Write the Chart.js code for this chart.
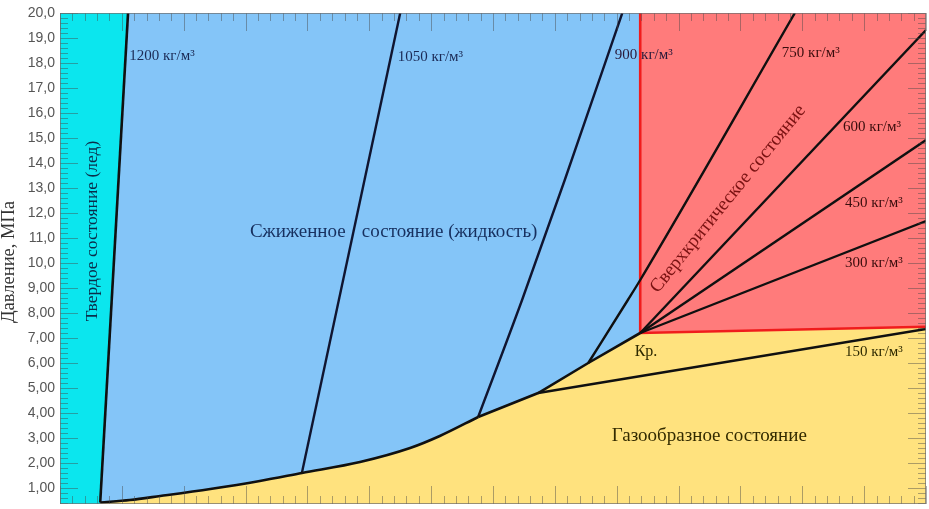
<!DOCTYPE html>
<html lang="ru">
<head>
<meta charset="UTF-8">
<title>Фазовая диаграмма CO2</title>
<script src="https://cdn.jsdelivr.net/npm/chart.js@4"></script>
<style>
    body { margin: 0; background: #fff; }
    #wrap { width: 929px; height: 509px; }
</style>
</head>
<body>
<div id="wrap"><canvas id="phaseChart" width="929" height="509"></canvas></div>
<script>
// оси: температура, К (подписи по X обрезаны), давление, МПа
const tMin = 210, tMax = 350;
const pMin = 0.36, pMax = 20;
const pTicks = [1, 2, 3, 4, 5, 6, 7, 8, 9, 10, 11, 12, 13, 14, 15, 16, 17, 18, 19, 20];
const tMajorStep = 10, tMinorStep = 2;

// линия плавления (граница лед / жидкость), 1200 кг/м3
const meltT = [216.5, 221.0];
const meltP = [0.42, 20.0];

// линия насыщения (жидкость / газ): плавная нижняя часть и ломаная до Кр.
const vapLowT = [216.5, 221.3, 226.2, 234.3, 242.3, 249.1, 258.5, 266.6, 271.4, 277.6];
const vapLowP = [0.42, 0.52, 0.68, 0.96, 1.28, 1.60, 2.04, 2.60, 3.08, 3.84];
const vapHighT = [277.6, 287.3, 295.4, 303.8];
const vapHighP = [3.84, 4.80, 6.00, 7.20];

// граница сверхкритической области (от Кр. вправо)
const superT = [303.8, 350];
const superP = [7.20, 7.45];

// изохоры, кг/м3
const iso1050T = [249.1, 265.0];
const iso1050P = [1.60, 20.0];
const iso900T = [277.6, 284.7, 291.6, 300.9];
const iso900P = [3.84, 8.52, 13.32, 20.0];
const iso750T = [295.4, 301.8, 303.8, 328.8];
const iso750P = [6.00, 8.52, 9.32, 20.0];
const iso600T = [303.8, 350];
const iso600P = [7.20, 19.32];
const iso450T = [303.8, 350];
const iso450P = [7.20, 14.92];
const iso300T = [303.8, 350];
const iso300P = [7.20, 11.68];
const iso150T = [287.3, 350];
const iso150P = [4.80, 7.36];

const pts = (ts, ps) => ts.map((t, i) => ({ x: t, y: ps[i] }));
const vapAll = [...pts(vapLowT, vapLowP), ...pts(vapHighT, vapHighP).slice(1)];
const crit = vapAll[vapAll.length - 1];
const n = meltT.length - 1;

// области фаз, собранные из линий выше
const solidArea = [
    { x: tMin, y: pMin }, { x: tMin, y: pMax },
    { x: meltT[n], y: pMax }, ...pts(meltT, meltP).reverse(), { x: meltT[0], y: pMin }
];
const liquidArea = [
    ...pts(meltT, meltP), { x: crit.x, y: pMax }, ...vapAll.slice().reverse()
];
const superArea = [
    { x: crit.x, y: crit.y }, { x: crit.x, y: pMax }, { x: tMax, y: pMax }, ...pts(superT, superP).reverse()
];
const gasArea = [
    { x: vapAll[0].x, y: pMin }, ...vapAll, ...pts(superT, superP).slice(1), { x: tMax, y: pMin }
];

const area = (data, color) => ({
    data, backgroundColor: color, borderWidth: 0, fill: 'shape', showLine: true,
    pointRadius: 0, order: 10
});
const curve = (data, color, w, smooth) => ({
    data, borderColor: color, borderWidth: w, fill: false, showLine: true,
    pointRadius: 0, order: 1, cubicInterpolationMode: smooth ? 'monotone' : 'default'
});

const serif = '"Liberation Serif", "Times New Roman", serif';

// подписи на поле графика (координаты в К / МПа)
const notes = [
    { text: '1200 кг/м³', t: 221.2, p: 18.28, size: 15, color: '#1b2a55' },
    { text: '1050 кг/м³', t: 264.6, p: 18.24, size: 15, color: '#1b2a55' },
    { text: '900 кг/м³', t: 299.7, p: 18.32, size: 15, color: '#2a1a3a' },
    { text: '750 кг/м³', t: 326.7, p: 18.40, size: 15, color: '#3a0d0d' },
    { text: '600 кг/м³', t: 336.6, p: 15.44, size: 15, color: '#3a0d0d' },
    { text: '450 кг/м³', t: 336.9, p: 12.40, size: 15, color: '#3a0d0d' },
    { text: '300 кг/м³', t: 336.9, p: 10.00, size: 15, color: '#3a0d0d' },
    { text: '150 кг/м³', t: 336.9, p: 6.44, size: 15, color: '#2e2a00' },
    { text: 'Кр.', t: 302.9, p: 6.44, size: 16, color: '#2e2a00' },
    { text: 'Сжиженное', t: 240.7, p: 11.24, size: 19, color: '#17305f' },
    { text: 'состояние (жидкость)', t: 258.8, p: 11.24, size: 19, color: '#17305f' },
    { text: 'Газообразное состояние', t: 299.2, p: 3.08, size: 19, color: '#332b00' },
    { text: 'Сверхкритическое состояние', t: 318.0, p: 12.56, size: 19, color: '#7a1212', rot: -51, center: true },
    { text: 'Твердое состояние (лед)', t: 215.2, p: 11.28, size: 17.5, color: '#0b2d4a', rot: -90, center: true },
    // заголовок оси давления
    { text: 'Давление, МПа', t: 201.7, p: 10.04, size: 18.5, color: '#333', rot: -90, center: true }
];

const notesPlugin = {
    id: 'notes',
    afterDatasetsDraw(chart) {
        const { ctx, scales: { x, y } } = chart;
        notes.forEach(nt => {
            ctx.save();
            ctx.translate(x.getPixelForValue(nt.t), y.getPixelForValue(nt.p));
            if (nt.rot) ctx.rotate(nt.rot * Math.PI / 180);
            ctx.font = nt.size + 'px ' + serif;
            ctx.fillStyle = nt.color;
            ctx.textBaseline = 'middle';
            ctx.textAlign = nt.center ? 'center' : 'left';
            ctx.fillText(nt.text, 0, 0);
            ctx.restore();
        });
    }
};

// рамка и засечки внутрь поля со всех четырех сторон
const framePlugin = {
    id: 'frame',
    afterDatasetsDraw(chart) {
        const { ctx, chartArea: a, scales: { x, y } } = chart;
        ctx.save();
        ctx.strokeStyle = 'rgba(70,70,70,0.45)';
        ctx.lineWidth = 1;
        ctx.beginPath();
        for (let k = 0; k <= (tMax - tMin) / tMinorStep; k++) {
            const t = tMin + k * tMinorStep;
            const px = Math.round(x.getPixelForValue(t)) + 0.5;
            const len = (t - tMin) % tMajorStep === 0 ? 18 : 8;
            ctx.moveTo(px, a.bottom); ctx.lineTo(px, a.bottom - len);
            ctx.moveTo(px, a.top); ctx.lineTo(px, a.top + len);
        }
        for (let k = 2; k <= pMax * 5; k++) {
            const py = Math.round(y.getPixelForValue(k / 5)) + 0.5;
            const len = k % 5 === 0 ? 18 : 8;
            ctx.moveTo(a.left, py); ctx.lineTo(a.left + len, py);
            ctx.moveTo(a.right, py); ctx.lineTo(a.right - len, py);
        }
        ctx.stroke();
        ctx.strokeStyle = 'rgba(110,110,110,0.7)';
        ctx.strokeRect(a.left + 0.5, a.top + 0.5, a.right - a.left - 1, a.bottom - a.top - 1);
        ctx.restore();
    }
};

const fmt = v => (v >= 10 ? v.toFixed(1) : v.toFixed(2)).replace('.', ',');

new Chart(document.getElementById('phaseChart'), {
    type: 'scatter',
    data: {
        datasets: [
            curve(pts(meltT, meltP), '#101010', 2.6, false),
            curve(pts(vapLowT, vapLowP), '#101010', 2.6, true),
            curve(pts(vapHighT, vapHighP), '#101010', 2.6, false),
            curve(pts(iso1050T, iso1050P), '#101530', 2.4, false),
            curve(pts(iso900T, iso900P), '#101530', 2.4, true),
            curve(pts(iso750T, iso750P), '#101010', 2.4, true),
            curve(pts(iso600T, iso600P), '#101010', 2.4, false),
            curve(pts(iso450T, iso450P), '#101010', 2.4, false),
            curve(pts(iso300T, iso300P), '#101010', 2.4, false),
            curve(pts(iso150T, iso150P), '#101010', 2.4, false),
            Object.assign(curve([{ x: crit.x, y: pMax }, ...pts(superT, superP)], '#f01c1c', 2.6, false), { order: 5 }),
            area(solidArea, '#0be6ee'),
            area(liquidArea, '#84c5f8'),
            area(superArea, '#ff7b7b'),
            area(gasArea, '#ffe27e')
        ]
    },
    options: {
        responsive: false,
        animation: false,
        events: [],
        layout: { padding: { top: 13, right: 3, bottom: 5, left: 0 } },
        plugins: { legend: { display: false }, tooltip: { enabled: false } },
        scales: {
            x: { type: 'linear', min: tMin, max: tMax, display: false },
            y: {
                type: 'linear', min: pMin, max: pMax, position: 'left',
                grid: { display: false, drawTicks: false },
                border: { display: false },
                afterBuildTicks: s => { s.ticks = pTicks.map(v => ({ value: v })); },
                afterFit: s => { s.width = 60; s.paddingTop = 0; s.paddingBottom = 0; },
                ticks: {
                    callback: v => fmt(v),
                    color: '#555',
                    padding: 5,
                    font: { family: '"Liberation Sans", Arial, sans-serif', size: 14 }
                }
            }
        }
    },
    plugins: [framePlugin, notesPlugin]
});
</script>
</body>
</html>
